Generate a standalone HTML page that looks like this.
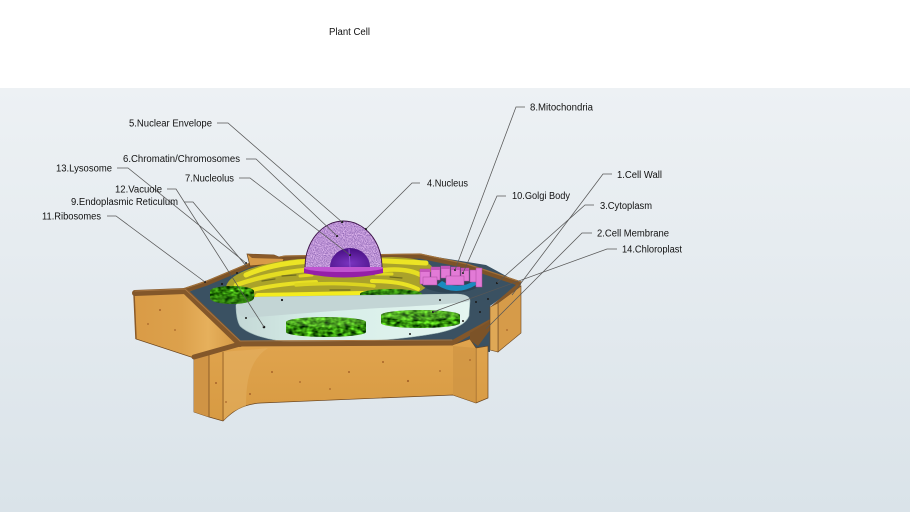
<!DOCTYPE html>
<html><head><meta charset="utf-8">
<style>
html,body{margin:0;padding:0;width:910px;height:512px;overflow:hidden;background:#fff}
svg{display:block}
text{font-family:"Liberation Sans",Arial,sans-serif;font-size:10px;fill:#111}
</style></head><body>
<svg width="910" height="512" viewBox="0 0 910 512" xmlns="http://www.w3.org/2000/svg">
<defs>
<linearGradient id="bg" x1="0" y1="0" x2="0" y2="1">
<stop offset="0" stop-color="#edf1f4"/><stop offset="1" stop-color="#dae3e9"/>
</linearGradient>
<linearGradient id="woodF" x1="0" y1="0" x2="0" y2="1">
<stop offset="0" stop-color="#e0a44e"/><stop offset="1" stop-color="#d79a42"/>
</linearGradient>
<linearGradient id="woodL" x1="0" y1="0" x2="1" y2="0">
<stop offset="0" stop-color="#d99b46"/><stop offset="0.45" stop-color="#dca14c"/><stop offset="0.7" stop-color="#e6b05c"/><stop offset="1" stop-color="#d29642"/>
</linearGradient>
<linearGradient id="vacF" x1="0" y1="0" x2="1" y2="0">
<stop offset="0" stop-color="#c4d8d6"/><stop offset="0.35" stop-color="#d6eee8"/><stop offset="1" stop-color="#e4f5f0"/>
</linearGradient>
<filter id="mottle" x="0" y="0" width="1" height="1" color-interpolation-filters="sRGB">
<feTurbulence type="fractalNoise" baseFrequency="0.16 0.28" numOctaves="2" seed="3" result="n"/>
<feColorMatrix in="n" type="matrix" values="0.9 0 0 0 -0.25  1.6 0 0 0 -0.25  0.4 0 0 0 -0.15  0 0 0 0 1" result="c"/>
<feComposite in="c" in2="SourceGraphic" operator="in"/>
</filter>
<filter id="speck" x="0" y="0" width="1" height="1" color-interpolation-filters="sRGB">
<feTurbulence type="fractalNoise" baseFrequency="0.9" numOctaves="1" seed="7" result="n"/>
<feColorMatrix in="n" type="matrix" values="0.7 0 0 0 0.38  0.7 0 0 0 0.22  0.5 0 0 0 0.58  0 0 0 0 1" result="c"/>
<feComposite in="c" in2="SourceGraphic" operator="in"/>
</filter>
<radialGradient id="nucl" cx="0.5" cy="0.8" r="0.7">
<stop offset="0" stop-color="#7a34c0"/><stop offset="1" stop-color="#4c1288"/>
</radialGradient>
</defs>

<!-- background -->
<rect x="0" y="0" width="910" height="88" fill="#ffffff"/>
<rect x="0" y="88" width="910" height="424" fill="url(#bg)"/>

<text x="329" y="35" textLength="41" lengthAdjust="spacingAndGlyphs">Plant Cell</text>

<!-- cytoplasm floor -->
<polygon points="186,293 250,265 290,256 430,256 486,265 521,284 490,306 490,352 478,351 240,348" fill="#3a5162"/>

<!-- back rim -->
<polyline points="183,291 207,283 250,265 285,258 420,256 467,266 521,284" fill="none" stroke="#7c5328" stroke-width="5" stroke-linejoin="round"/>
<polyline points="183,289 207,281 250,263 285,256 420,254 467,264 521,282" fill="none" stroke="#a0703a" stroke-width="1.2" stroke-linejoin="round"/>
<!-- back-left tab -->
<polygon points="247,254 274,255 284,259 282,263 250,266" fill="#d89a48" stroke="#6a4520" stroke-width="0.7"/>
<polygon points="247,254 274,255 284,259 252,258" fill="#8a5a2a"/>

<!-- ER -->
<path d="M226,287 C228,274 258,263 298,259 L392,257 C418,258 434,262 434,272 C434,284 422,293 404,297 L290,301 C252,301 226,296 226,287 Z" fill="#aaa22a"/>
<g fill="none" stroke-linecap="round">
<path d="M246,275 C266,266 290,262 314,261" stroke="#ece424" stroke-width="5"/>
<path d="M236,285 C256,278 282,272 306,270" stroke="#e4dc22" stroke-width="4.5"/>
<path d="M244,292 C266,286 292,283 316,282" stroke="#e8e024" stroke-width="4"/>
<path d="M366,260 L426,263" stroke="#ece424" stroke-width="5"/>
<path d="M384,270 C404,268 420,272 427,280" stroke="#e6de22" stroke-width="4.5"/>
<path d="M372,281 C392,281 408,284 418,289" stroke="#eae224" stroke-width="4"/>
<path d="M258,296 L412,293" stroke="#f4ec1e" stroke-width="6"/>
<path d="M296,285 C320,283 350,283 374,286" stroke="#dcd420" stroke-width="3.5"/>
<path d="M300,276 L312,275 M376,274 L392,274" stroke="#e0d820" stroke-width="3"/>
<path d="M262,281 L275,279 M282,276 L296,275 M390,277 L402,278 M330,290 L350,290" stroke="#6f6c1e" stroke-width="1.2"/>
</g>

<!-- nucleus -->
<path d="M304,268 L383,268 L383,273 Q344,282 304,273 Z" fill="#951fa8"/>
<ellipse cx="343.5" cy="268" rx="39.5" ry="4" fill="#c054d0"/>
<path d="M305,267 A38.5,46 0 0 1 382,267 Z" fill="#c49cda" filter="url(#speck)"/>
<path d="M305,267 A38.5,46 0 0 1 382,267" fill="none" stroke="#3a1046" stroke-width="0.9"/>
<path d="M330,267 A20,19 0 0 1 370,267 Z" fill="url(#nucl)"/>
<path d="M349,249 L350,267" stroke="#8c50d0" stroke-width="1"/>

<!-- golgi / mitochondria -->
<ellipse cx="451" cy="281" rx="31" ry="12" fill="#2d4454"/>
<path d="M437,285 Q456,297 476,285 L476,280 Q458,291 442,281 Z" fill="#1a8bbf"/>
<g fill="#e27ad6" stroke="#a84a9c" stroke-width="0.5">
<rect x="420" y="269" width="10" height="15"/>
<rect x="431" y="267" width="9" height="13"/>
<rect x="441" y="266" width="9" height="12"/>
<rect x="451" y="267" width="9" height="12"/>
<rect x="461" y="268" width="8" height="13"/>
<rect x="470" y="270" width="7" height="12"/>
<rect x="476" y="268" width="6" height="19"/>
<rect x="423" y="277" width="14" height="8"/>
<rect x="446" y="276" width="18" height="9"/>
</g>
<g fill="#c455b8">
<rect x="420" y="269" width="10" height="3"/>
<rect x="431" y="267" width="9" height="3"/>
<rect x="441" y="266" width="9" height="3"/>
<rect x="451" y="267" width="9" height="3"/>
<rect x="461" y="268" width="8" height="3"/>
</g>

<!-- back chloroplast -->
<path d="M360,294 A31,5 0 0 1 422,294 L422,298 L360,299 Z" fill="#3a9a1c" filter="url(#mottle)"/>
<path d="M360,294 A31,5 0 0 1 422,294 L422,298 L360,299 Z" fill="#1f5a0c" opacity="0.3"/>

<!-- vacuole -->
<path d="M236,305 C240,300 248,298 258,297 L455,294 C464,294 470,296 470,301 L469,316 C466,324 456,329 438,333 C405,339 370,342 330,342 L295,342 C268,341 248,334 240,326 C237,321 236,313 236,305 Z" fill="url(#vacF)" stroke="#9fb8b8" stroke-width="0.6"/>
<path d="M236,305 C240,300 248,298 258,297 L455,294 C464,294 470,296 470,301 C455,304 420,306 380,308 C330,311 280,315 246,318 C239,316 236,311 236,305 Z" fill="#c3d5d5"/>

<!-- left chloroplast -->
<path d="M210,291 A22,5 0 0 1 254,291 L254,298 A22,6 0 0 1 210,298 Z" fill="#3a9a1c" filter="url(#mottle)"/>
<path d="M210,296 L254,296 L254,298 A22,6 0 0 1 210,298 Z" fill="#1f5a0c" opacity="0.35"/>

<!-- front chloroplasts -->
<path d="M286,322 A40,5 0 0 1 366,322 L366,332 A40,5 0 0 1 286,332 Z" fill="#3a9a1c" filter="url(#mottle)"/>
<path d="M286,322 A40,5 0 0 1 366,322 A40,5 0 0 1 286,322 Z" fill="#a8e870" opacity="0.22"/>
<path d="M381,315 A39.5,5 0 0 1 460,315 L460,323 A39.5,5 0 0 1 381,323 Z" fill="#3a9a1c" filter="url(#mottle)"/>
<path d="M381,315 A39.5,5 0 0 1 460,315 A39.5,5 0 0 1 381,315 Z" fill="#a8e870" opacity="0.22"/>

<!-- ribosome dots -->
<g fill="#1a1a1a">
<circle cx="222" cy="284" r="1.1"/><circle cx="282" cy="300" r="1.1"/><circle cx="264" cy="327" r="1.3"/>
<circle cx="246" cy="318" r="1"/><circle cx="350" cy="341" r="1"/><circle cx="410" cy="334" r="1"/>
<circle cx="463" cy="321" r="1"/><circle cx="476" cy="302" r="1"/><circle cx="488" cy="299" r="1"/>
<circle cx="480" cy="312" r="1"/><circle cx="497" cy="283" r="1.1"/><circle cx="486" cy="329" r="1.1"/>
<circle cx="512" cy="295" r="1.1"/><circle cx="433" cy="312" r="1.1"/><circle cx="342" cy="222" r="1.2"/>
<circle cx="337" cy="236" r="1.1"/><circle cx="350" cy="255" r="1.1"/><circle cx="366" cy="229" r="1.1"/>
<circle cx="455" cy="270" r="1"/><circle cx="463" cy="273" r="1"/><circle cx="246" cy="263" r="1"/>
<circle cx="237" cy="273" r="1"/><circle cx="205" cy="282" r="1"/><circle cx="440" cy="300" r="1"/>
</g>

<!-- left wing + left-front outer face -->
<path d="M134,294 L185,292 L240,345 L194,358 L136,339 Z" fill="url(#woodL)" stroke="#6a4520" stroke-width="0.7"/>
<path d="M134,294 L136,339" stroke="#8a5a28" stroke-width="1.5"/>

<!-- front block -->
<path d="M194,358 L240,345 L452,345 L470,339 L476,348 L488,346 L488,398 L476,403 L453,395 L261,403 C242,404 232,412 223,421 L209,417 L194,412 Z" fill="url(#woodF)" stroke="#6a4520" stroke-width="0.7"/>
<path d="M194,358 L209,354 L209,417 L194,412 Z" fill="#d09445"/>
<path d="M223,352 L223,421" stroke="#8a5a28" stroke-width="0.8"/>
<path d="M209,354 L209,417" stroke="#7a4e22" stroke-width="0.8"/>
<path d="M476,348 L476,403" stroke="#8a5a28" stroke-width="0.8"/>
<path d="M224,352 C240,350 252,350 268,348 C250,360 246,380 246,406 L232,412 L224,420 Z" fill="#e4b162" opacity="0.55"/>
<path d="M453,346 L476,348 L476,403 L453,395 Z" fill="#cf9443" opacity="0.7"/>

<!-- rims -->
<g fill="none" stroke-linejoin="round" stroke-linecap="round">
<polyline points="135,293 185,291 240,344" stroke="#83572a" stroke-width="6"/>
<polyline points="194,357 240,344 452,343 468,334 490,322" stroke="#83572a" stroke-width="5"/>
<polyline points="135,291 185,289 240,341" stroke="#a67440" stroke-width="1"/>
<polyline points="240,341 452,340" stroke="#a67440" stroke-width="1"/>
</g>
<polygon points="470,333 490,321 490,330 478,346 470,340" fill="#7c5328"/>

<!-- right box -->
<polygon points="498,303 521,286 521,333 498,352" fill="#d69b49" stroke="#6a4520" stroke-width="0.6"/>
<polygon points="490,307 498,303 498,352 490,350" fill="#dfa856" stroke="#6a4520" stroke-width="0.6"/>
<polygon points="490,307 517,284 521,286 498,303" fill="#83572a"/>

<!-- wood knots -->
<g fill="#a8652a">
<circle cx="160" cy="310" r="1"/><circle cx="148" cy="324" r="0.9"/><circle cx="175" cy="330" r="0.9"/>
<circle cx="216" cy="383" r="1"/><circle cx="250" cy="394" r="1"/><circle cx="272" cy="372" r="1"/>
<circle cx="349" cy="372" r="1"/><circle cx="300" cy="382" r="0.9"/><circle cx="383" cy="362" r="1"/>
<circle cx="408" cy="381" r="1.1"/><circle cx="440" cy="371" r="0.9"/><circle cx="470" cy="360" r="0.9"/>
<circle cx="226" cy="402" r="0.9"/><circle cx="330" cy="389" r="0.9"/><circle cx="507" cy="330" r="0.9"/>
</g>

<!-- leader lines -->
<g fill="none" stroke="#575757" stroke-width="0.75">
<polyline points="217,123 228,123 342,222"/>
<polyline points="246,159 256,159 337,236"/>
<polyline points="117,168 128,168 246,263"/>
<polyline points="239,178 250,178 350,255"/>
<polyline points="167,189 176,189 264,327"/>
<polyline points="184,202 193,202 247,267"/>
<polyline points="107,216 116,216 205,282"/>
<polyline points="420,183 412,183 366,229"/>
<polyline points="525,107 516,107 455,270"/>
<polyline points="506,196 497,196 463,273"/>
<polyline points="612,174 603,174 512,295"/>
<polyline points="594,205 585,205 497,283"/>
<polyline points="592,233 582,233 486,329"/>
<polyline points="617,249 607,249 433,312"/>
</g>

<!-- labels -->
<text x="129" y="126.5" textLength="83" lengthAdjust="spacingAndGlyphs">5.Nuclear Envelope</text>
<text x="123" y="162" textLength="117" lengthAdjust="spacingAndGlyphs">6.Chromatin/Chromosomes</text>
<text x="56" y="171.5" textLength="56" lengthAdjust="spacingAndGlyphs">13.Lysosome</text>
<text x="185" y="181.5" textLength="49" lengthAdjust="spacingAndGlyphs">7.Nucleolus</text>
<text x="115" y="192.5" textLength="47" lengthAdjust="spacingAndGlyphs">12.Vacuole</text>
<text x="71" y="205" textLength="107" lengthAdjust="spacingAndGlyphs">9.Endoplasmic Reticulum</text>
<text x="42" y="219.5" textLength="59" lengthAdjust="spacingAndGlyphs">11.Ribosomes</text>
<text x="530" y="110.5" textLength="63" lengthAdjust="spacingAndGlyphs">8.Mitochondria</text>
<text x="427" y="186.5" textLength="41" lengthAdjust="spacingAndGlyphs">4.Nucleus</text>
<text x="512" y="199" textLength="58" lengthAdjust="spacingAndGlyphs">10.Golgi Body</text>
<text x="617" y="178" textLength="45" lengthAdjust="spacingAndGlyphs">1.Cell Wall</text>
<text x="600" y="209" textLength="52" lengthAdjust="spacingAndGlyphs">3.Cytoplasm</text>
<text x="597" y="236.5" textLength="72" lengthAdjust="spacingAndGlyphs">2.Cell Membrane</text>
<text x="622" y="252.5" textLength="60" lengthAdjust="spacingAndGlyphs">14.Chloroplast</text>
</svg>
</body></html>
